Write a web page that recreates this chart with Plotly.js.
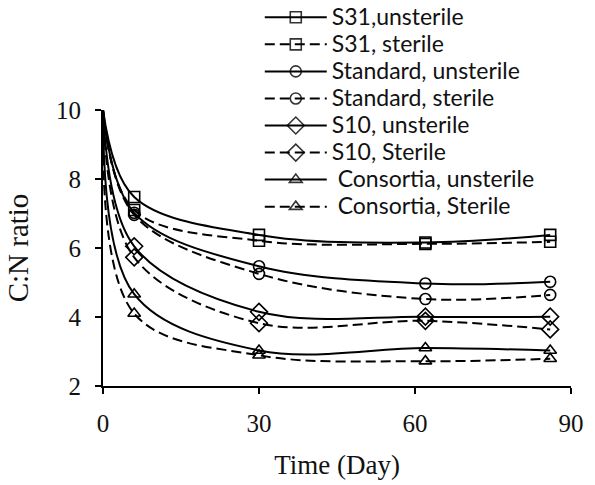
<!DOCTYPE html>
<html>
<head>
<meta charset="utf-8">
<script src="https://cdn.plot.ly/plotly-3.0.1.min.js"></script>
<style>
html,body{margin:0;padding:0;background:#fff;}
#chart{width:595px;height:485px;}
</style>
</head>
<body>
<div id="chart"></div>
<script>
// Days of sampling
const days = [0, 6, 30, 62, 86];

// C:N ratio series
const s31Unsterile       = [10, 7.48, 6.38, 6.16, 6.38];
const s31Sterile         = [10, 7.10, 6.21, 6.12, 6.18];
const standardUnsterile  = [10, 7.02, 5.47, 4.97, 5.02];
const standardSterile    = [10, 6.96, 5.25, 4.52, 4.64];
const s10Unsterile       = [10, 6.05, 4.15, 4.01, 4.01];
const s10Sterile         = [10, 5.73, 3.82, 3.89, 3.64];
const consortiaUnsterile = [10, 4.66, 3.03, 3.10, 3.03];
const consortiaSterile   = [10, 4.10, 2.89, 2.72, 2.79];

const seriesNames = [
  "S31,unsterile", "S31, sterile",
  "Standard, unsterile", "Standard, sterile",
  "S10, unsterile", "S10, Sterile",
  "\u00a0Consortia, unsterile", "\u00a0Consortia, Sterile"
];
const xTickLabels = ["0", "30", "60", "90"];
const yTickLabels = ["2", "4", "6", "8", "10"];

const seriesValues = [s31Unsterile, s31Sterile, standardUnsterile, standardSterile,
                      s10Unsterile, s10Sterile, consortiaUnsterile, consortiaSterile];
const symbols = ["square-open", "square-open", "circle-open", "circle-open",
                 "diamond-open", "diamond-open", "triangle-up-open", "triangle-up-open"];
const dashes = ["solid", "10px,5px", "solid", "10px,5px", "solid", "10px,5px", "solid", "10px,5px"];

const serif = "Liberation Serif";

const traces = seriesValues.map((vals, i) => ({
  x: days,
  y: vals,
  name: '<span style="font-size:23px;font-family:Lato">' + seriesNames[i] + '</span>',
  type: "scatter",
  mode: "lines+markers",
  line: {color: "#000", width: 2, dash: dashes[i], shape: "spline", smoothing: 1},
  marker: {
    symbol: symbols[i],
    size: symbols[i].startsWith("diamond") ? 13 : 11,
    color: "#000",
    opacity: days.map(d => d === 0 ? 0 : 1),
    line: {color: "#000", width: 1.6}
  }
}));

const layout = {
  width: 595,
  height: 485,
  font: {family: serif, color: "#111"},
  margin: {l: 103, r: 24, t: 110, b: 99, autoexpand: false},
  paper_bgcolor: "#fff",
  plot_bgcolor: "rgba(0,0,0,0)",
  showlegend: true,
  legend: {
    x: 0.335, xanchor: "left",
    y: 1.403, yanchor: "top",
    bgcolor: "rgba(0,0,0,0)",
    font: {family: "Lato", size: 18.5, color: "#111"},
    itemwidth: 62,
    tracegroupgap: 0
  },
  xaxis: {
    range: [0, 90],
    tickvals: [0, 30, 60, 90],
    ticktext: xTickLabels,
    showgrid: false,
    zeroline: false,
    showline: true,
    linecolor: "#000",
    linewidth: 2,
    ticks: "outside",
    ticklen: 6,
    tickwidth: 2,
    tickcolor: "#000",
    ticklabelstandoff: 8,
    tickfont: {family: serif, size: 25, color: "#111"},
    title: {text: "Time (Day)", standoff: 19,
            font: {family: serif, size: 27, color: "#111"}},
    fixedrange: true
  },
  yaxis: {
    range: [2, 10],
    tickvals: [2, 4, 6, 8, 10],
    ticktext: yTickLabels,
    showgrid: false,
    zeroline: false,
    showline: true,
    linecolor: "#000",
    linewidth: 2,
    ticks: "outside",
    ticklen: 6,
    tickwidth: 2,
    tickcolor: "#000",
    ticklabelstandoff: 9,
    tickfont: {family: serif, size: 25, color: "#111"},
    title: {text: "\u00a0\u00a0\u00a0C:N ratio", standoff: 19,
            font: {family: serif, size: 29, color: "#111"}},
    fixedrange: true
  }
};

Plotly.newPlot("chart", traces, layout, {staticPlot: true, displayModeBar: false});
</script>
</body>
</html>
